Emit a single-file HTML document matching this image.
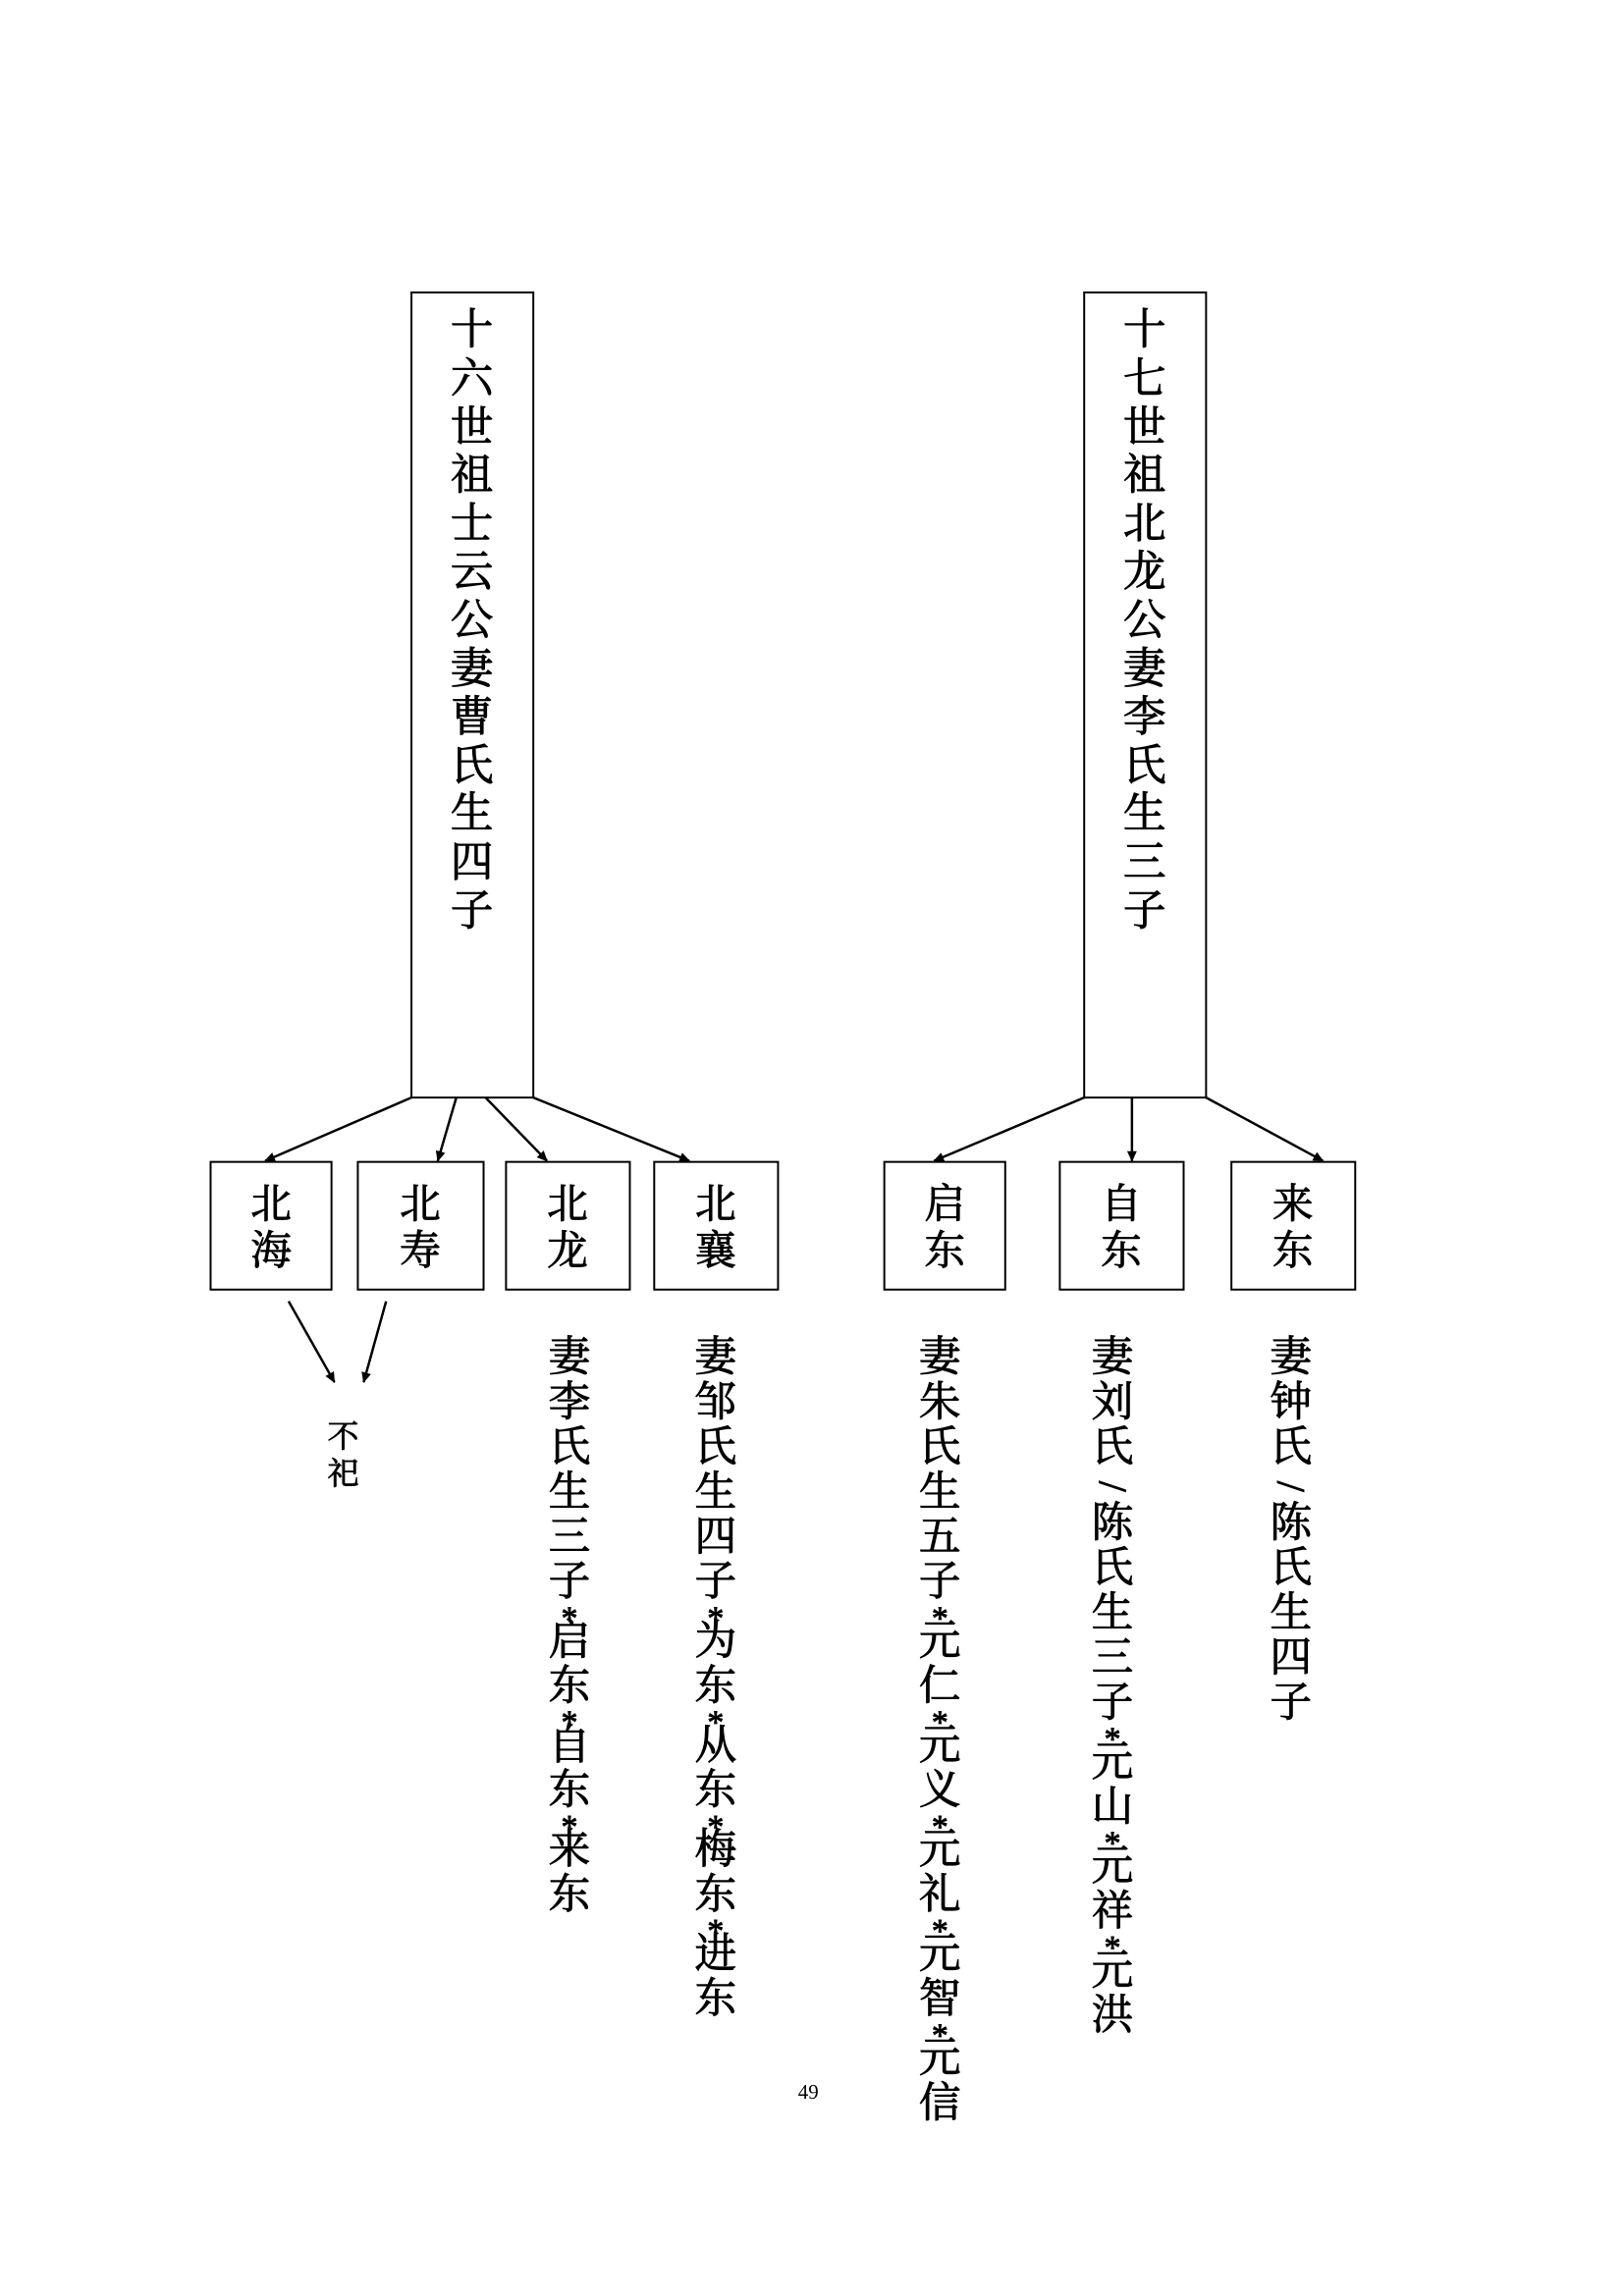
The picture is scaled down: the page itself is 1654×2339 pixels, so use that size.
<!DOCTYPE html>
<html><head><meta charset="utf-8"><style>
html,body{margin:0;padding:0;background:#fff}
svg{display:block}
text{font-family:"Liberation Serif","Noto Serif CJK SC",serif;fill:#000;stroke:#000;stroke-width:0.9}
</style></head><body>
<svg width="1654" height="2339" viewBox="0 0 1654 2339" xmlns="http://www.w3.org/2000/svg">
<defs><marker id="ah" markerWidth="12" markerHeight="12" refX="10" refY="5" orient="auto" markerUnits="userSpaceOnUse"><path d="M0,0 L11,5 L0,10 z" fill="#000"/></marker></defs>
<g transform="scale(0.993)">
<g fill="none" stroke="#000" stroke-width="2">
<rect x="422" y="300" width="125" height="826"/>
<rect x="1112" y="300" width="125" height="826"/>
<rect x="216" y="1192" width="124" height="131"/>
<rect x="367" y="1192" width="129" height="131"/>
<rect x="519" y="1192" width="127" height="131"/>
<rect x="671" y="1192" width="127" height="131"/>
<rect x="907" y="1192" width="124" height="131"/>
<rect x="1087" y="1192" width="127" height="131"/>
<rect x="1263" y="1192" width="127" height="131"/>
</g>
<g stroke="#000" stroke-width="2.5" marker-end="url(#ah)">
<line x1="422" y1="1126" x2="272" y2="1191"/>
<line x1="468" y1="1126" x2="449" y2="1191"/>
<line x1="498" y1="1126" x2="561" y2="1191"/>
<line x1="547" y1="1126" x2="707" y2="1191"/>
<line x1="1112" y1="1126" x2="958" y2="1191"/>
<line x1="1161" y1="1126" x2="1161" y2="1191"/>
<line x1="1237" y1="1126" x2="1357" y2="1191"/>
<line x1="296" y1="1335" x2="343" y2="1418"/>
<line x1="396" y1="1335" x2="373" y2="1418"/>
</g>
<g font-size="44" text-anchor="middle" dominant-baseline="central" transform="translate(0,5)">
<text x="484" y="334">十</text><text x="484" y="384">六</text><text x="484" y="434">世</text><text x="484" y="483">祖</text><text x="484" y="533">士</text><text x="484" y="582">云</text><text x="484" y="632">公</text><text x="484" y="682">妻</text><text x="484" y="731">曹</text><text x="484" y="781">氏</text><text x="484" y="830">生</text><text x="484" y="880">四</text><text x="484" y="930">子</text>
<text x="1174" y="334">十</text><text x="1174" y="384">七</text><text x="1174" y="434">世</text><text x="1174" y="483">祖</text><text x="1174" y="533">北</text><text x="1174" y="582">龙</text><text x="1174" y="632">公</text><text x="1174" y="682">妻</text><text x="1174" y="731">李</text><text x="1174" y="781">氏</text><text x="1174" y="830">生</text><text x="1174" y="880">三</text><text x="1174" y="930">子</text>
</g>
<g font-size="42" text-anchor="middle" dominant-baseline="central">
<text x="278" y="1236">北</text><text x="278" y="1284">海</text>
<text x="431" y="1236">北</text><text x="431" y="1284">寿</text>
<text x="582" y="1236">北</text><text x="582" y="1284">龙</text>
<text x="734" y="1236">北</text><text x="734" y="1284">襄</text>
<text x="969" y="1236">启</text><text x="969" y="1284">东</text>
<text x="1150" y="1236">自</text><text x="1150" y="1284">东</text>
<text x="1326" y="1236">来</text><text x="1326" y="1284">东</text>
</g>
<g font-size="32" text-anchor="middle" dominant-baseline="central">
<text x="352" y="1474">不</text><text x="352" y="1512">祀</text>
</g>
<g font-size="43" text-anchor="middle" id="cols"></g>
<text x="829" y="2146" font-size="21" text-anchor="middle" dominant-baseline="central" style="stroke-width:0">49</text>
</g>
</svg>
<script>
var cols=[[584,"妻李氏生三子*启东*自东*来东"],[734,"妻邹氏生四子*为东*从东*梅东*进东"],[964,"妻朱氏生五子*元仁*元义*元礼*元智*元信"],[1141,"妻刘氏/陈氏生三子*元山*元祥*元洪"],[1324,"妻钟氏/陈氏生四子"]];
var g=document.getElementById("cols"),ns="http://www.w3.org/2000/svg";
cols.forEach(function(c){var y=1393;for(var ch of c[1]){var t=document.createElementNS(ns,"text");
if(ch=="*"){var yc=y-46+30;t.setAttribute("x",c[0]);t.setAttribute("y",yc+18);t.setAttribute("font-size","34");t.setAttribute("dominant-baseline","alphabetic");t.textContent="*";y+=15;}
else if(ch=="/"){y-=6;t.setAttribute("x",c[0]);t.setAttribute("y",y);t.setAttribute("dominant-baseline","central");t.setAttribute("font-size","40");t.setAttribute("transform","rotate(90 "+c[0]+" "+y+")");t.textContent="/";y+=38;}
else{t.setAttribute("x",c[0]);t.setAttribute("y",y);t.setAttribute("dominant-baseline","central");t.textContent=ch;y+=46;}
g.appendChild(t);}});
</script>
</body></html>
